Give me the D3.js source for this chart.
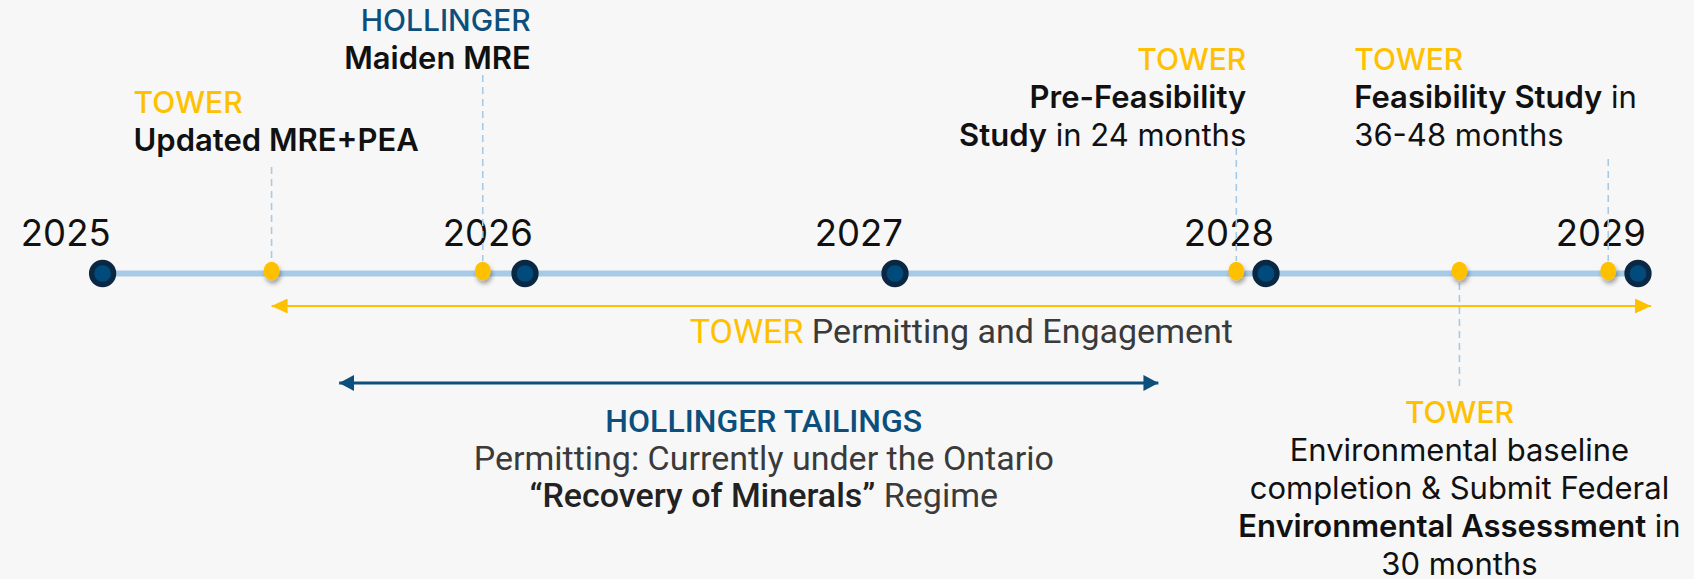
<!DOCTYPE html>
<html>
<head>
<meta charset="utf-8">
<script src="https://cdn.jsdelivr.net/npm/d3@7"></script>
<style>
  html, body { margin: 0; padding: 0; background: #f7f7f7; }
  svg { display: block; }
</style>
</head>
<body>
<svg width="1694" height="579"></svg>
<script>
// ---------- data ----------
const years = [2025, 2026, 2027, 2028, 2029];

// milestone markers (fractional year) and their captions
const milestoneDates = [2025.40, 2025.90, 2027.92, 2028.52, 2028.92];
const milestoneOwners = ["TOWER", "HOLLINGER", "TOWER", "TOWER", "TOWER"];
const milestoneLabels = [
  ["**Updated MRE+PEA**"],
  ["**Maiden MRE**"],
  ["**Pre-Feasibility**", "**Study** in 24 months"],
  ["Environmental baseline", "completion & Submit Federal",
   "**Environmental Assessment** in", "30 months"],
  ["**Feasibility Study** in", "36-48 months"]
];

// periods drawn as double-headed arrows
const periodOwners = ["TOWER", "HOLLINGER TAILINGS"];
const periodStarts = [2025.40, 2025.56];
const periodEnds = [2029.035, 2027.71];
const periodLabels = [
  ["Permitting and Engagement"],
  ["Permitting: Currently under the Ontario", "**“Recovery of Minerals”** Regime"]
];

// ---------- style / layout ----------
const gold = "#ffc000", navy = "#0c4f7c", dark = "#0a2844",
      lightBlue = "#a7cbe7", ink = "#111111", grey = "#3a3a3a";
const ownerColor = {"TOWER": gold, "HOLLINGER": navy, "HOLLINGER TAILINGS": navy};
const mainFont = "Inter, 'DejaVu Sans', sans-serif";
const narrowFont = "Roboto, 'Liberation Sans', sans-serif";

// caption placement relative to each milestone marker
const milestoneLayout = [
  {anchor: "start",  dx: -138, y: 113, lead: [167, 261]},
  {anchor: "end",    dx: 48,   y: 31,  lead: [75, 261]},
  {anchor: "end",    dx: 10,   y: 70,  lead: [148, 261]},
  {anchor: "middle", dx: 0,    y: 423, lead: [283, 389]},
  {anchor: "start",  dx: -254, y: 70,  lead: [159, 261]}
];
const periodLayout = [
  {y: 306, color: gold, width: 2, head: [16, 7.5], dx: 0, labelY: 343, inline: true},
  {y: 383, color: navy, width: 3, head: [15, 8], dx: 15, labelY: 432, inline: false}
];

const svg = d3.select("svg"), width = +svg.attr("width"),
    height = +svg.attr("height");
const lineY = 273.5;

// year dots are not evenly spaced on the slide, so the scale is piecewise
const x = d3.scaleLinear()
    .domain(years)
    .range([102.6, 525, 895, 1266, 1638]);

svg.append("rect")
    .attr("width", width)
    .attr("height", height)
    .attr("fill", "#f7f7f7");

const defs = svg.append("defs");
defs.append("filter")
    .attr("id", "shadow")
    .attr("x", "-50%").attr("y", "-50%")
    .attr("width", "200%").attr("height", "200%")
  .append("feDropShadow")
    .attr("dx", 1.5)
    .attr("dy", 3.5)
    .attr("stdDeviation", 2)
    .attr("flood-color", "#000")
    .attr("flood-opacity", 0.35);

drawTimeline();
drawPeriods();
drawMilestones();

/////////////HELPERS//////////////////

function drawTimeline() {
    svg.append("line")
        .attr("x1", x(years[0]))
        .attr("x2", x(years[years.length - 1]))
        .attr("y1", lineY)
        .attr("y2", lineY)
        .attr("stroke", lightBlue)
        .attr("stroke-width", 6);

    svg.append("g")
        .selectAll("text")
        .data(years)
        .enter().append("text")
        .attr("x", (d) => x(d) + 8)
        .attr("y", 246)
        .attr("text-anchor", "end")
        .style("font-family", mainFont)
        .style("font-size", "36.5px")
        .style("font-weight", 400)
        .style("fill", ink)
        .text((d) => d);

    svg.append("g")
        .selectAll("circle")
        .data(years)
        .enter().append("circle")
        .attr("cx", (d) => x(d))
        .attr("cy", lineY)
        .attr("r", 11)
        .attr("fill", "#004b7b")
        .attr("stroke", dark)
        .attr("stroke-width", 5.3);
}

function drawMilestones() {
    const data = milestoneDates.map((d, i) => ({
        date: d, owner: milestoneOwners[i], lines: milestoneLabels[i], lay: milestoneLayout[i]
    }));

    // dashed leaders
    svg.append("g")
        .selectAll("line")
        .data(data)
        .enter().append("line")
        .attr("x1", (d) => x(d.date))
        .attr("x2", (d) => x(d.date))
        .attr("y1", (d) => d.lay.lead[0])
        .attr("y2", (d) => d.lay.lead[1])
        .attr("stroke", lightBlue)
        .attr("stroke-width", 1.6)
        .attr("stroke-dasharray", "7,5");

    svg.append("g")
        .selectAll("ellipse")
        .data(data)
        .enter().append("ellipse")
        .attr("cx", (d) => x(d.date))
        .attr("cy", lineY - 2.5)
        .attr("rx", 8)
        .attr("ry", 9.2)
        .attr("fill", gold)
        .attr("filter", "url(#shadow)");

    data.forEach((d) => {
        const g = svg.append("g");
        const tx = x(d.date) + d.lay.dx;
        addLine(g, d.owner, {x: tx, y: d.lay.y, anchor: d.lay.anchor,
            font: mainFont, size: 30, color: ownerColor[d.owner], weight: 500});
        d.lines.forEach((line, j) => {
            addLine(g, line, {x: tx, y: d.lay.y + 38 * (j + 1), anchor: d.lay.anchor,
                font: mainFont, size: 31, color: ink, weight: 400, bold: 600});
        });
    });
}

function drawPeriods() {
    periodOwners.forEach((owner, i) => {
        const lay = periodLayout[i];
        const id = "head" + i;
        const [hl, hw] = lay.head;
        defs.append("marker")
            .attr("id", id)
            .attr("markerUnits", "userSpaceOnUse")
            .attr("markerWidth", hl)
            .attr("markerHeight", hw * 2)
            .attr("refX", hl)
            .attr("refY", hw)
            .attr("orient", "auto-start-reverse")
          .append("path")
            .attr("d", `M0,0L${hl},${hw}L0,${hw * 2}Z`)
            .attr("fill", lay.color);

        const x1 = x(periodStarts[i]), x2 = x(periodEnds[i]);
        svg.append("line")
            .attr("x1", x1)
            .attr("x2", x2)
            .attr("y1", lay.y)
            .attr("y2", lay.y)
            .attr("stroke", lay.color)
            .attr("stroke-width", lay.width)
            .attr("marker-start", `url(#${id})`)
            .attr("marker-end", `url(#${id})`);

        const cx = (x1 + x2) / 2 + lay.dx;
        const g = svg.append("g");
        const opts = {x: cx, anchor: "middle", font: narrowFont, size: 34,
            color: grey, weight: 400, bold: 500};
        if (lay.inline) {
            const t = addLine(g, " " + periodLabels[i][0], Object.assign({y: lay.labelY}, opts));
            t.insert("tspan", ":first-child")
                .style("fill", ownerColor[owner])
                .text(owner);
        } else {
            addLine(g, owner, Object.assign({}, opts, {y: lay.labelY, size: 32,
                color: ownerColor[owner], weight: 500}));
            periodLabels[i].forEach((line, j) => {
                addLine(g, line, Object.assign({y: lay.labelY + 37.5 * (j + 1)}, opts));
            });
        }
    });
}

// one line of text; **...** marks bold runs
function addLine(g, str, o) {
    const t = g.append("text")
        .attr("x", o.x)
        .attr("y", o.y)
        .attr("text-anchor", o.anchor)
        .style("font-family", o.font)
        .style("font-size", o.size + "px")
        .style("fill", o.color)
        .style("white-space", "pre");
    str.split(/(\*\*[^*]+\*\*)/).filter((s) => s).forEach((s) => {
        const isBold = s.startsWith("**");
        t.append("tspan")
            .style("font-weight", isBold ? o.bold : o.weight)
            .style("fill", isBold && o.color === grey ? "#222" : null)
            .text(isBold ? s.slice(2, -2) : s);
    });
    return t;
}
</script>
</body>
</html>
